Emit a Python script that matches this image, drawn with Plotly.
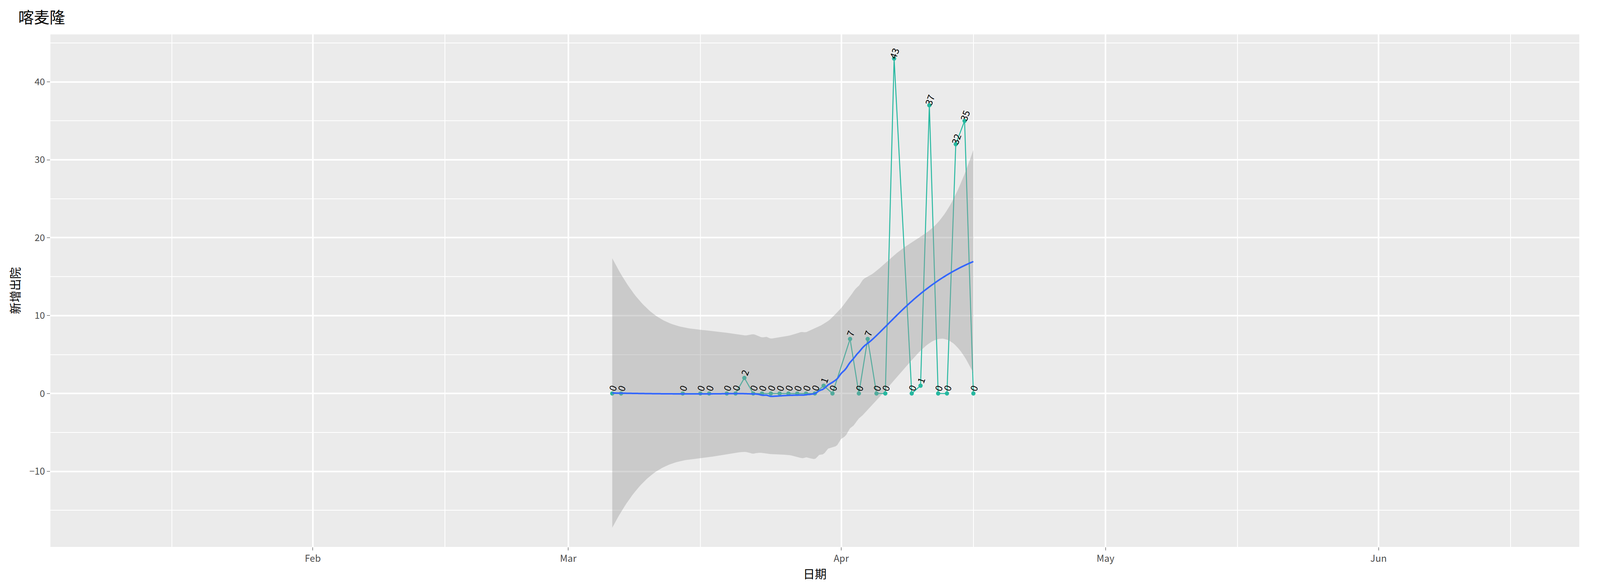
import numpy as np
import pandas as pd
import plotly.graph_objects as go

dates = ["2020-03-06", "2020-03-07", "2020-03-14", "2020-03-16", "2020-03-17",
         "2020-03-19", "2020-03-20", "2020-03-21", "2020-03-22", "2020-03-23",
         "2020-03-24", "2020-03-25", "2020-03-26", "2020-03-27", "2020-03-28",
         "2020-03-29", "2020-03-30", "2020-03-31", "2020-04-02", "2020-04-03",
         "2020-04-04", "2020-04-05", "2020-04-06", "2020-04-07", "2020-04-09",
         "2020-04-10", "2020-04-11", "2020-04-12", "2020-04-13", "2020-04-14",
         "2020-04-15", "2020-04-16"]
values = [0, 0, 0, 0, 0, 0, 0, 2, 0, 0, 0, 0, 0, 0, 0, 0, 1, 0, 7, 0, 7, 0, 0,
          43, 0, 1, 37, 0, 0, 32, 35, 0]

d = pd.to_datetime(dates)
x = np.array((d - d[0]).days, dtype=float)
y = np.array(values, dtype=float)
n = len(x)


# loess, span 0.75, degree 2 (like geom_smooth default)
def loess_row(x0, span=0.75):
    q = int(np.floor(n * span))
    dist = np.abs(x - x0)
    h = np.sort(dist)[q - 1]
    w = np.clip(1 - (dist / h) ** 3, 0, None) ** 3
    X = np.vstack([np.ones(n), x - x0, (x - x0) ** 2]).T
    W = np.diag(w)
    A = np.linalg.pinv(X.T @ W @ X) @ X.T @ W
    return A[0]


L = np.array([loess_row(xi) for xi in x])
res = y - L @ y
IL = np.eye(n) - L
d1 = np.trace(IL.T @ IL)
sigma = np.sqrt(res @ res / d1)
tq = 2.1  # approx qt(0.975, df)

xg = np.linspace(x.min(), x.max(), 200)
Lg = np.array([loess_row(xi) for xi in xg])
fit = Lg @ y
se = sigma * np.sqrt((Lg ** 2).sum(axis=1))
xg_dates = d[0] + pd.to_timedelta(xg, unit="D")

fig = go.Figure()
teal = "#26B8A0"
fig.add_trace(go.Scatter(x=d, y=y, mode="lines+markers",
                         line=dict(color=teal, width=2.5),
                         marker=dict(color=teal, size=11)))
fig.add_trace(go.Scatter(x=list(xg_dates) + list(xg_dates[::-1]),
                         y=list(fit + tq * se) + list((fit - tq * se)[::-1]),
                         fill="toself", fillcolor="rgba(153,153,153,0.4)",
                         line=dict(width=0), hoverinfo="skip"))
fig.add_trace(go.Scatter(x=xg_dates, y=fit, mode="lines",
                         line=dict(color="#3366FF", width=4, shape="spline")))

for di, v in zip(d, values):
    fig.add_annotation(x=di, y=v, text=str(v), showarrow=False, textangle=-70,
                       yshift=14, font=dict(size=24, color="black"))

fig.update_layout(
    autosize=True, showlegend=False,
    plot_bgcolor="#EBEBEB", paper_bgcolor="white",
    font=dict(family="Noto Sans CJK SC", color="#4D4D4D", size=24),
    title=dict(text="喀麦隆", x=0.0095, y=0.985, yanchor="top",
               font=dict(size=40, color="black")),
    margin=dict(l=121, r=45, t=80, b=108),
    xaxis=dict(title=dict(text="日期", font=dict(size=30, color="black")),
               range=["2020-01-02 05:00", "2020-06-23 19:00"],
               tickformat="%b", dtick="M1", tick0="2020-01-01",
               gridcolor="white", gridwidth=4, zeroline=False,
               ticks="outside", ticklen=8, tickcolor="#333333",
               minor=dict(dtick="M1", tick0="2020-01-16", gridcolor="white",
                          gridwidth=2, showgrid=True)),
    yaxis=dict(title=dict(text="新增出院", font=dict(size=30, color="black")),
               range=[-19.7, 46.1], dtick=10, gridcolor="white", gridwidth=4,
               zeroline=False, ticks="outside", ticklen=8, tickcolor="#333333",
               minor=dict(dtick=5, gridcolor="white", gridwidth=2, showgrid=True)),
)
fig.write_html("out.html", default_width="100%", default_height="100vh")
